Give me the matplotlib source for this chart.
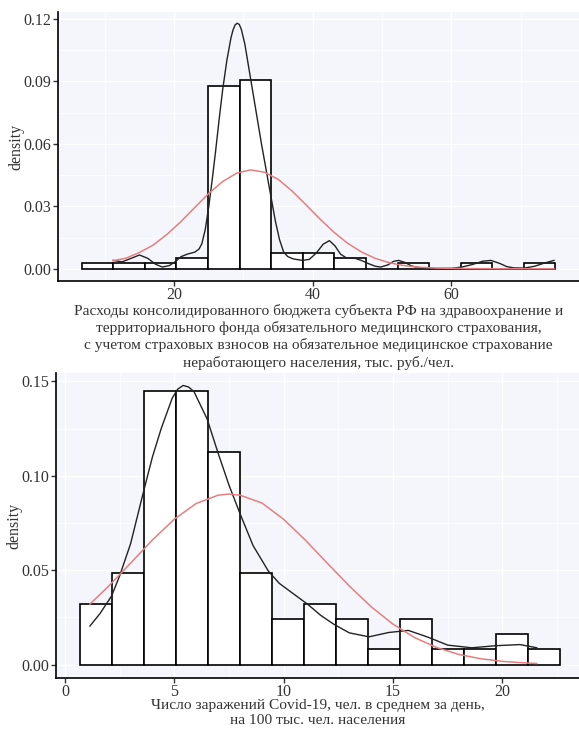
import matplotlib
matplotlib.use("Agg")
import matplotlib.pyplot as plt
from matplotlib.ticker import MultipleLocator
import numpy as np

plt.rcParams["font.family"] = ["Liberation Serif", "DejaVu Serif"]

# ---- top panel: health spending per person ----
top_edges = [6.67, 11.23, 15.78, 20.34, 24.89, 29.45, 34.0, 38.56,
             43.12, 47.67, 52.23, 56.78, 61.34, 65.89, 70.45, 75.0]
top_counts = [1, 1, 1, 2, 34, 35, 3, 3, 2, 0, 1, 0, 1, 0, 1]

top_kde_x = [11.2, 12.5, 13.8, 15.0, 16.2, 17.3, 18.3, 19.3, 20.2, 21.0,
             21.9, 23.0, 23.6, 24.0, 24.5, 25.0, 25.5, 26.0, 26.5, 27.0,
             27.6, 28.2, 28.5, 28.8, 29.1, 29.4, 29.7, 30.2, 30.8, 31.4,
             32.0, 32.6, 33.3, 34.0, 34.6, 35.2, 35.8, 36.4, 37.2, 38.5,
             39.5, 40.5, 41.5, 42.4, 43.2, 44.0, 44.8, 46.0, 47.0, 48.0,
             49.0, 49.8, 50.8, 51.7, 52.4, 53.3, 54.2, 55.0, 56.5, 58.0,
             60.0, 61.5, 63.0, 64.5, 65.7, 67.0, 68.0, 69.0, 70.5, 72.0,
             73.5, 74.8]
top_kde_y = [0.0040, 0.0033, 0.0050, 0.0066, 0.0050, 0.0022, 0.0008, 0.0015,
             0.0035, 0.0058, 0.0070, 0.0080, 0.0095, 0.0120, 0.0190, 0.0300,
             0.0430, 0.0570, 0.0720, 0.0860, 0.1000, 0.1110, 0.1148, 0.1172,
             0.1180, 0.1174, 0.1150, 0.1080, 0.0960, 0.0840, 0.0720, 0.0600,
             0.0470, 0.0340, 0.0230, 0.0140, 0.0080, 0.0058, 0.0047, 0.0040,
             0.0045, 0.0075, 0.0118, 0.0135, 0.0110, 0.0070, 0.0053, 0.0051,
             0.0040, 0.0025, 0.0012, 0.0008, 0.0018, 0.0036, 0.0040, 0.0030,
             0.0014, 0.0007, 0.0002, 0.0001, 0.0002, 0.0008, 0.0020, 0.0036,
             0.0040, 0.0025, 0.0010, 0.0004, 0.0003, 0.0012, 0.0028, 0.0040]

top_norm_x = [11.2, 13, 15, 17, 19, 21, 23, 25, 27, 29, 31, 33, 35, 37, 39,
              41, 43, 45, 47, 49, 51, 53, 55, 58, 62, 67, 72, 74.8]
top_norm_y = [0.0039, 0.0050, 0.0078, 0.0114, 0.0166, 0.0227, 0.0295, 0.0362,
              0.0419, 0.0459, 0.0475, 0.0464, 0.0430, 0.0374, 0.0308, 0.0240,
              0.0177, 0.0123, 0.0081, 0.0050, 0.0029, 0.0016, 0.0008, 0.0003,
              0.0001, 0.0, 0.0, 0.0]

top_xlabel = ("Расходы консолидированного бюджета субъекта РФ на здравоохранение и\n"
              "территориального фонда обязательного медицинского страхования,\n"
              "с учетом страховых взносов на обязательное медицинское страхование\n"
              "неработающего населения, тыс. руб./чел.")

# ---- bottom panel: covid cases ----
bot_edges = [0.685, 2.148, 3.611, 5.074, 6.537, 8.0, 9.463, 10.926, 12.389,
             13.852, 15.315, 16.778, 18.241, 19.704, 21.167, 22.63]
bot_counts = [4, 6, 18, 18, 14, 6, 3, 4, 3, 1, 3, 1, 1, 2, 1]

bot_kde_x = [1.14, 1.6, 2.13, 2.5, 3.0, 3.6, 4.0, 4.4, 4.9, 5.15, 5.4, 5.65,
             5.9, 6.5, 7.0, 7.5, 8.0, 8.6, 9.3, 9.8, 10.5, 11.1, 11.7, 12.3,
             13.0, 13.9, 14.8, 15.7, 16.6, 17.5, 18.6, 19.7, 20.8, 21.57]
bot_kde_y = [0.0204, 0.0270, 0.0363, 0.0470, 0.0640, 0.0920, 0.1100, 0.1250,
             0.1410, 0.1458, 0.1478, 0.1470, 0.1445, 0.1300, 0.1120, 0.0950,
             0.0800, 0.0630, 0.0495, 0.0430, 0.0370, 0.0319, 0.0260, 0.0213,
             0.0168, 0.0147, 0.0170, 0.0181, 0.0145, 0.0103, 0.0089, 0.0100,
             0.0106, 0.0089]

bot_norm_x = [1.14, 2, 3, 4, 5, 6, 7, 7.5, 8, 9, 10, 11, 12, 13, 14, 15, 16,
              17, 18, 19, 20, 21, 21.57]
bot_norm_y = [0.0320, 0.0416, 0.0537, 0.0660, 0.0770, 0.0853, 0.0897, 0.0903,
              0.0897, 0.0856, 0.0769, 0.0658, 0.0536, 0.0416, 0.0306, 0.0214,
              0.0142, 0.0090, 0.0054, 0.0031, 0.0017, 0.0009, 0.0006]

bot_xlabel = ("Число заражений Covid-19, чел. в среднем за день,\n"
              "на 100 тыс. чел. населения")

PANEL_BG = "#f5f6fb"
TEXT_COL = "#333333"


def draw_panel(ax, edges, counts, kde_x, kde_y, norm_x, norm_y):
    edges = np.array(edges)
    counts = np.array(counts)
    widths = np.diff(edges)
    dens = counts / (counts.sum() * widths)
    ax.set_facecolor(PANEL_BG)
    ax.bar(edges[:-1], dens, width=widths, align="edge",
           facecolor="white", edgecolor="black", linewidth=1.2, zorder=2)
    ax.plot(kde_x, kde_y, color="#222222", linewidth=1.0, zorder=3)
    ax.plot(norm_x, norm_y, color="#e57f7f", linewidth=1.1, zorder=4)
    ax.grid(True, which="major", color="white", linewidth=1.0, zorder=0)
    ax.grid(True, which="minor", color="white", linewidth=0.5, zorder=0)
    ax.set_axisbelow(True)
    for side in ["top", "right"]:
        ax.spines[side].set_visible(False)
    for side in ["left", "bottom"]:
        ax.spines[side].set_linewidth(1.2)
        ax.spines[side].set_color("black")
    ax.tick_params(which="major", length=3.5, width=1.0, color="#333333",
                   labelsize=11.5, labelcolor=TEXT_COL, pad=1.5)
    ax.tick_params(axis="x", which="major", pad=0.8)
    ax.tick_params(which="minor", length=0)
    ax.set_ylabel("density", fontsize=11.5, color=TEXT_COL, labelpad=-1)


fig = plt.figure(figsize=(5.79, 7.29), dpi=100)

ax1 = fig.add_axes([58 / 579, 1 - 281 / 729, 521 / 579, 269 / 729])
draw_panel(ax1, top_edges, top_counts, top_kde_x, top_kde_y, top_norm_x, top_norm_y)
ax1.set_xlim(3.25, 78.4)
ax1.set_ylim(-0.0059, 0.1234)
ax1.xaxis.set_major_locator(MultipleLocator(20))
ax1.xaxis.set_minor_locator(MultipleLocator(10))
ax1.yaxis.set_major_locator(MultipleLocator(0.03))
ax1.yaxis.set_minor_locator(MultipleLocator(0.015))
ax1.yaxis.set_major_formatter(lambda v, p: f"{v:.2f}")
ax1.set_xlabel(top_xlabel, fontsize=11.1, color=TEXT_COL, linespacing=1.3, labelpad=0.5)

ax2 = fig.add_axes([56 / 579, 1 - 678 / 729, 523 / 579, 305 / 729])
draw_panel(ax2, bot_edges, bot_counts, bot_kde_x, bot_kde_y, bot_norm_x, bot_norm_y)
ax2.set_xlim(-0.41, 23.5)
ax2.set_ylim(-0.0071, 0.1544)
ax2.xaxis.set_major_locator(MultipleLocator(5))
ax2.xaxis.set_minor_locator(MultipleLocator(2.5))
ax2.yaxis.set_major_locator(MultipleLocator(0.05))
ax2.yaxis.set_minor_locator(MultipleLocator(0.025))
ax2.yaxis.set_major_formatter(lambda v, p: f"{v:.2f}")
ax2.set_xlabel(bot_xlabel, fontsize=11.1, color=TEXT_COL, linespacing=1.15, labelpad=-0.5)

fig.savefig("out.png", dpi=100, facecolor="white")
